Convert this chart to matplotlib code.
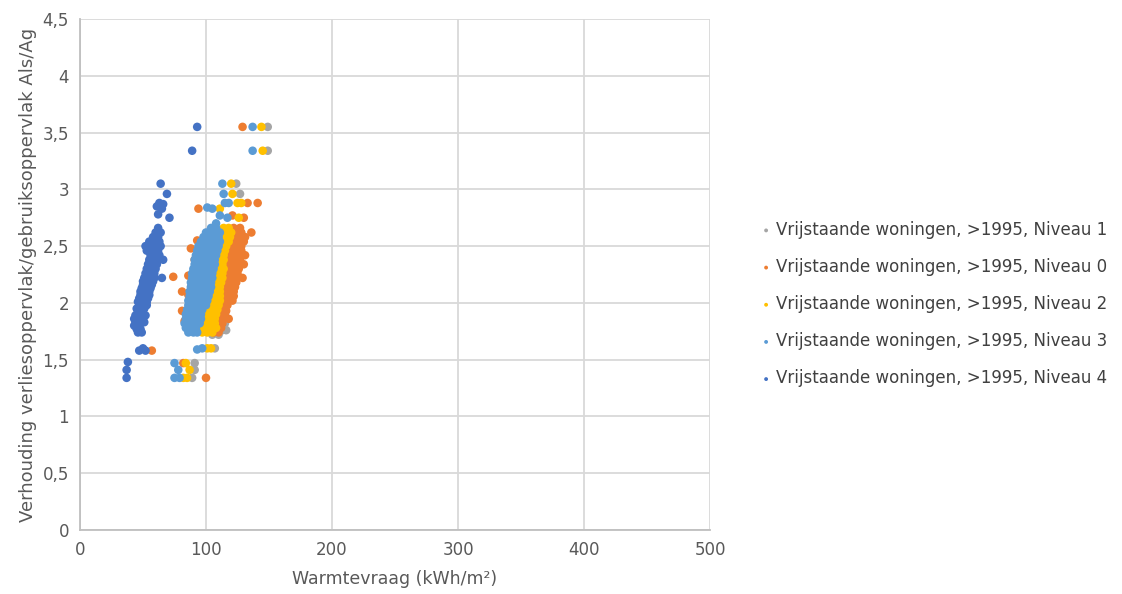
import matplotlib
matplotlib.use("Agg")
import matplotlib.pyplot as plt
from matplotlib.ticker import FuncFormatter

# Each series: rows of (Als/Ag ratio, [warmtevraag values at that ratio])
niveau1 = [
    (3.55, [149]), (3.34, [149]), (3.05, [124]), (2.96, [127]),
    (2.60, [118]), (2.50, [116]), (2.40, [114]), (2.30, [112]), (2.20, [110]),
    (2.10, [108]), (2.00, [106]), (1.90, [104, 113]), (1.82, [111, 115]),
    (1.76, [108, 113, 116]), (1.72, [105, 110]), (1.60, [107]),
    (1.47, [91]), (1.41, [91]), (1.34, [89]),
]

niveau0 = [
    (3.55, [129]), (2.88, [133, 141]), (2.83, [94]), (2.77, [121]), (2.75, [130]),
    (2.66, [122, 127]), (2.62, [123, 128, 136]), (2.58, [121, 126, 131]),
    (2.55, [93]), (2.54, [120, 125, 130]), (2.50, [119, 124, 128]), (2.48, [88]),
    (2.46, [118, 123, 128]), (2.42, [117, 122, 127, 131]), (2.38, [91, 117, 122, 127]),
    (2.34, [116, 121, 126, 130]), (2.30, [116, 121, 126]), (2.26, [115, 120, 125]),
    (2.24, [86]), (2.23, [74]), (2.22, [115, 120, 125, 129]), (2.18, [115, 119, 124]),
    (2.14, [114, 118, 123]), (2.10, [81, 114, 118, 122]), (2.07, [86]),
    (2.06, [114, 118, 122]), (2.02, [113, 117, 121]), (1.98, [113, 117]),
    (1.93, [81, 112, 116]), (1.90, [111, 115]), (1.86, [110, 114, 118]),
    (1.84, [83]), (1.82, [109, 113]), (1.78, [108, 112]), (1.74, [106, 110]),
    (1.58, [57]), (1.47, [82]), (1.34, [100]),
]

niveau2 = [
    (3.55, [144]), (3.34, [145]), (3.05, [120]), (2.96, [121]), (2.88, [125, 128]),
    (2.83, [111]), (2.75, [126]), (2.66, [114, 118]), (2.62, [113, 117, 120]),
    (2.58, [112, 116, 119]), (2.54, [112, 115, 118]), (2.50, [110, 113, 116]),
    (2.46, [109, 112, 115]), (2.42, [108, 111, 114]), (2.38, [108, 111, 114]),
    (2.34, [107, 110, 113]), (2.30, [106, 109, 112, 114]), (2.26, [105, 108, 111, 113]),
    (2.22, [104, 107, 110, 113]), (2.18, [103, 106, 109, 112]),
    (2.14, [102, 105, 108, 111]), (2.10, [101, 104, 107, 111]),
    (2.06, [100, 103, 107, 111]), (2.02, [99, 103, 107, 111]),
    (1.98, [98, 102, 106, 110]), (1.94, [97, 101, 105, 109]),
    (1.90, [96, 100, 104, 108]), (1.86, [95, 99, 103, 107]),
    (1.82, [96, 100, 104, 107]), (1.78, [97, 101, 105, 108]), (1.74, [97, 101, 105]),
    (1.60, [101, 104]), (1.47, [84]), (1.41, [87]), (1.34, [82, 85]),
]

niveau3 = [
    (3.55, [137]), (3.34, [137]), (3.05, [113]), (2.96, [114]), (2.88, [115, 118]),
    (2.84, [101]), (2.83, [105]), (2.77, [111]), (2.75, [117]), (2.70, [108]),
    (2.66, [104, 108]), (2.62, [100, 104, 108, 111]), (2.58, [98, 102, 106, 110]),
    (2.54, [96, 100, 104, 108, 111]), (2.50, [94, 98, 102, 106, 110]),
    (2.46, [93, 97, 101, 105, 109]), (2.42, [92, 96, 100, 104, 108]),
    (2.38, [91, 95, 99, 103, 107]), (2.34, [91, 95, 99, 103, 107]),
    (2.30, [90, 94, 98, 102, 106]), (2.26, [89, 93, 97, 101, 105]),
    (2.22, [89, 93, 97, 101, 105]), (2.18, [88, 92, 96, 100, 104]),
    (2.14, [88, 92, 96, 100, 104]), (2.10, [87, 91, 95, 99, 103]),
    (2.06, [87, 91, 95, 99, 102]), (2.02, [86, 90, 94, 98, 101]),
    (1.98, [86, 90, 94, 98, 100]), (1.94, [85, 89, 93, 97]), (1.90, [84, 88, 92, 96]),
    (1.86, [84, 88, 92, 96]), (1.82, [83, 87, 91, 95]), (1.78, [84, 88, 92]),
    (1.74, [86, 90, 93]), (1.60, [97]), (1.59, [93]), (1.47, [75]), (1.41, [78]),
    (1.34, [75, 79]),
]

niveau4 = [
    (3.55, [93]), (3.34, [89]), (3.05, [64]), (2.96, [69]), (2.88, [63]), (2.87, [66]),
    (2.85, [61]), (2.83, [65]), (2.78, [62]), (2.75, [71]),
    (2.66, [62]), (2.62, [60, 64]), (2.58, [58, 62]), (2.54, [55, 59, 63]),
    (2.50, [52, 57, 61, 64]), (2.46, [53, 58, 62]), (2.42, [56, 60, 63]),
    (2.38, [55, 59, 62, 66]), (2.34, [54, 58, 61]), (2.30, [53, 57, 60]),
    (2.26, [52, 56, 59]), (2.22, [51, 55, 59, 65]), (2.19, [50, 54, 58]),
    (2.16, [50, 54, 57]), (2.13, [49, 52, 56]), (2.10, [48, 51, 55]),
    (2.07, [48, 51, 55]), (2.04, [47, 50, 54]), (2.01, [46, 50, 53]),
    (1.98, [47, 51, 53]), (1.95, [45, 48, 51]), (1.92, [46, 49]),
    (1.89, [44, 47, 52]), (1.86, [43, 46, 50]), (1.83, [44, 48, 51]),
    (1.80, [43, 47]), (1.77, [45, 48]), (1.74, [46, 49]),
    (1.60, [50]), (1.58, [47, 52]), (1.48, [38]), (1.41, [37]), (1.34, [37]),
]

labels = [
    "Vrijstaande woningen, >1995, Niveau 1",
    "Vrijstaande woningen, >1995, Niveau 0",
    "Vrijstaande woningen, >1995, Niveau 2",
    "Vrijstaande woningen, >1995, Niveau 3",
    "Vrijstaande woningen, >1995, Niveau 4",
]
colors = ["#A5A5A5", "#ED7D31", "#FFC000", "#5B9BD5", "#4472C4"]

plt.rcParams["font.family"] = "DejaVu Sans"

fig = plt.figure(figsize=(11.22, 5.94), dpi=100)
ax = fig.add_axes([0.0713, 0.1077, 0.5615, 0.8603])

for rows, label, color in zip([niveau1, niveau0, niveau2, niveau3, niveau4], labels, colors):
    xs = [x for y, row in rows for x in row]
    ys = [y for y, row in rows for x in row]
    ax.scatter(xs, ys, s=38, color=color, edgecolors="none", label=label, zorder=3)

ax.set_xlim(0, 500)
ax.set_ylim(0, 4.5)
ax.set_xticks([0, 100, 200, 300, 400, 500])
ax.set_yticks([0, 0.5, 1, 1.5, 2, 2.5, 3, 3.5, 4, 4.5])
ax.yaxis.set_major_formatter(FuncFormatter(lambda v, p: f"{v:g}".replace(".", ",")))
ax.grid(True, color="#d9d9d9", linewidth=1.3, zorder=0)
for side in ["left", "bottom"]:
    ax.spines[side].set_color("#bfbfbf")
    ax.spines[side].set_linewidth(1.3)
for side in ["top", "right"]:
    ax.spines[side].set_visible(False)
ax.tick_params(length=0, labelsize=12, colors="#595959", pad=8)

ax.set_xlabel("Warmtevraag (kWh/m²)", fontsize=12.5, color="#595959", labelpad=8)
ax.set_ylabel("Verhouding verliesoppervlak/gebruiksoppervlak Als/Ag", fontsize=13,
              color="#595959", labelpad=4)

fig.legend(loc="center left", bbox_to_anchor=(0.662, 0.488), frameon=False,
           fontsize=12, markerscale=0.45, labelspacing=1.15, handletextpad=0.1,
           handlelength=1.0, labelcolor="#404040")

fig.savefig("out.png", dpi=100)
